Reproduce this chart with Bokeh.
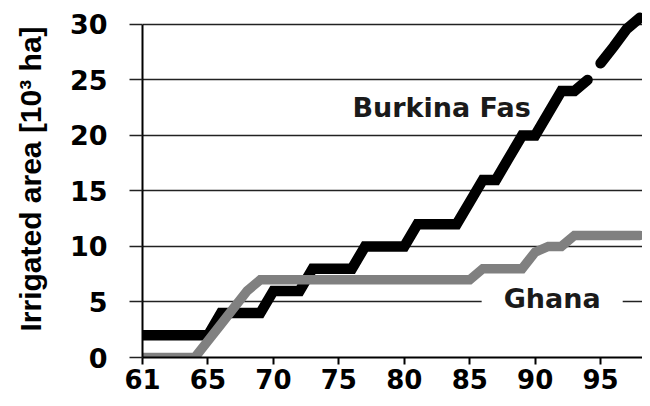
from bokeh.plotting import figure
from bokeh.models import Range1d, FixedTicker, Label
from bokeh.core.properties import value
from bokeh.embed import file_html
from bokeh.resources import INLINE

# ---- data ----
years = list(range(60, 99))
burkina = [2, 2, 2, 2, 2, 2, 4, 4, 4, 4, 6, 6, 6, 8, 8, 8, 8, 10, 10, 10,
           10, 12, 12, 12, 12, 14, 16, 16, 18, 20, 20, 22, 24, 24, 25,
           26.5, 28, 29.6, 30.6]
ghana = [0, 0, 0, 0, 0, 1.5, 3, 4.5, 6, 7, 7, 7, 7, 7, 7, 7, 7, 7, 7, 7,
         7, 7, 7, 7, 7, 7, 8, 8, 8, 8, 9.5, 10, 10, 11, 11, 11, 11, 11, 11]
burkina_break = 35  # the black line is drawn in two pieces (gap after 94)

x_ticks = [60, 65, 70, 75, 80, 85, 90, 95]
x_tick_labels = ["61", "65", "70", "75", "80", "85", "90", "95"]
y_ticks = [0, 5, 10, 15, 20, 25, 30]
y_label = "Irrigated area [10³ ha]"
series_names = ["Burkina Fas", "Ghana"]

# label anchor positions (data units)
bf_label_pos = (82.85, 22.5)
gh_label_pos = (91.3, 5.3)

p = figure(width=642, height=398, output_backend="svg", toolbar_location=None,
           x_range=Range1d(60, 98.2), y_range=Range1d(0, 32.16),
           min_border_left=142, min_border_right=0, min_border_top=0,
           min_border_bottom=41)
p.outline_line_color = None
p.background_fill_color = "white"

# grid
p.xgrid.visible = False
p.ygrid.ticker = FixedTicker(ticks=y_ticks[1:])
p.ygrid.grid_line_color = "#222222"
p.ygrid.grid_line_width = 1.5

# y axis
ya = p.yaxis[0]
ya.ticker = FixedTicker(ticks=y_ticks)
ya.bounds = (0, 30)
ya.axis_line_width = 2
ya.axis_line_color = "black"
ya.major_tick_out = 13
ya.major_tick_in = 0
ya.major_tick_line_width = 1.5
ya.major_tick_line_color = "#222222"
ya.minor_tick_out = 0
ya.minor_tick_in = 0
ya.major_label_text_font = "DejaVu Sans"
ya.major_label_text_font_style = "bold"
ya.major_label_text_font_size = "27px"
ya.major_label_text_color = "black"
ya.major_label_standoff = 22
ya.axis_label = y_label
ya.axis_label_text_font = "Liberation Sans"
ya.axis_label_text_font_style = "bold"
ya.axis_label_text_font_size = "30px"
ya.axis_label_text_color = "black"
ya.axis_label_standoff = 20

# x axis
xa = p.xaxis[0]
xa.ticker = FixedTicker(ticks=x_ticks)
xa.major_label_overrides = {t: l for t, l in zip(x_ticks, x_tick_labels)}
xa.axis_line_width = 2
xa.axis_line_color = "black"
xa.major_tick_out = 7
xa.major_tick_in = 0
xa.major_tick_line_width = 2
xa.major_tick_line_color = "black"
xa.minor_tick_out = 0
xa.minor_tick_in = 0
xa.major_label_text_font = "DejaVu Sans"
xa.major_label_text_font_style = "bold"
xa.major_label_text_font_size = "26px"
xa.major_label_text_color = "black"
xa.major_label_standoff = 4

# Burkina label drawn under the line
p.text(x=[bf_label_pos[0]], y=[bf_label_pos[1]], text=[series_names[0]],
       text_font=value("DejaVu Sans"), text_font_style="bold",
       text_font_size="27px", text_align="center",
       text_baseline="alphabetic", text_color="#1a1a1a")

# lines
p.line(years[:burkina_break], burkina[:burkina_break], line_color="black",
       line_width=10.5, line_cap="round", line_join="miter")
p.line(years[burkina_break:], burkina[burkina_break:], line_color="black",
       line_width=10.5, line_cap="round", line_join="miter")
p.line(years, ghana, line_color="#808080", line_width=9.5,
       line_cap="round", line_join="miter")

gh = Label(x=gh_label_pos[0], y=gh_label_pos[1], text=series_names[1],
           text_font="DejaVu Sans", text_font_style="bold",
           text_font_size="27px", text_align="center",
           text_baseline="alphabetic", text_color="#1a1a1a",
           background_fill_color="white",
           padding=dict(left=22, right=22, top=2, bottom=2))
p.add_layout(gh)

open("out.html", "w").write(file_html(p, INLINE))
